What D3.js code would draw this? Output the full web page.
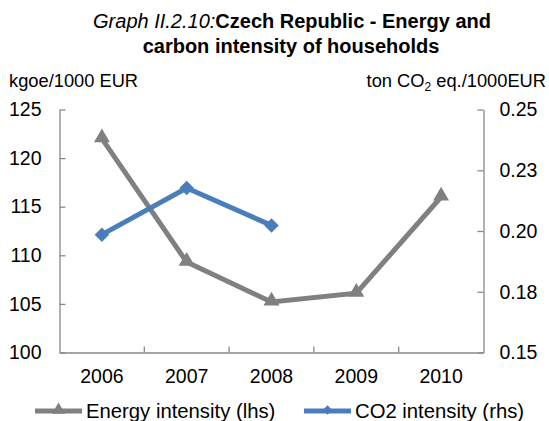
<!DOCTYPE html>
<html>
<head>
<meta charset="utf-8">
<script src="https://cdn.jsdelivr.net/npm/d3@7"></script>
<style>
  body { margin: 0; background: #fff; }
  svg text { font-family: Arial, "Liberation Sans", sans-serif; fill: #000; }
</style>
</head>
<body>
<div id="chart"></div>
<script>
var years = ["2006", "2007", "2008", "2009", "2010"]
var energyIntensity = [122.0, 109.3, 105.2, 106.1, 116.0]
var co2Years = ["2006", "2007", "2008"]
var co2Intensity = [0.1985, 0.2177, 0.2023]
var leftTicks = [100, 105, 110, 115, 120, 125]
var rightTicks = [0.15, 0.175, 0.2, 0.225, 0.25]
var rightTickLabels = ["0.15", "0.18", "0.20", "0.23", "0.25"]

var width = 549, height = 421
var grey = "#808080", blue = "#4a7ebb", axisCol = "#888888"
var plotL = 59.5, plotR = 483.5, plotT = 109.5, plotB = 352.5

var svg = d3.select("#chart").append("svg").attr("width", width).attr("height", height)

var x = d3.scaleBand().domain(years).range([plotL, plotR])
var y = d3.scaleLinear().domain([100, 125]).range([plotB, plotT])
var yR = d3.scaleLinear().domain([0.15, 0.25]).range([plotB, plotT])
var cx = d => x(d) + x.bandwidth() / 2

// title
var title = svg.append("text").attr("x", 292).attr("y", 28).attr("text-anchor", "middle").style("font-size", "20px")
title.append("tspan").style("font-style", "italic").text("Graph II.2.10:")
title.append("tspan").style("font-weight", "bold").text("Czech Republic - Energy and")
svg.append("text").attr("x", 291).attr("y", 53).attr("text-anchor", "middle")
  .style("font-size", "20px").style("font-weight", "bold").text("carbon intensity of households")

// unit labels
svg.append("text").attr("x", 9).attr("y", 87).style("font-size", "18.3px").text("kgoe/1000 EUR")
var rl = svg.append("text").attr("x", 546).attr("y", 87).attr("text-anchor", "end").style("font-size", "18.3px")
rl.append("tspan").text("ton CO")
rl.append("tspan").attr("dy", 4).style("font-size", "12px").text("2")
rl.append("tspan").attr("dy", -4).text(" eq./1000EUR")

// axes
var gL = svg.append("g").attr("transform", "translate(" + plotL + ",0)")
  .call(d3.axisLeft(y).tickValues(leftTicks).tickSize(-6).tickSizeOuter(0).tickPadding(18))
var gR = svg.append("g").attr("transform", "translate(" + plotR + ",0)")
  .call(d3.axisRight(yR).tickValues(rightTicks).tickSize(-6).tickSizeOuter(0).tickPadding(16)
    .tickFormat((d, i) => rightTickLabels[i]))
var gX = svg.append("g").attr("transform", "translate(0," + plotB + ")")
  .call(d3.axisBottom(x).tickSize(0).tickPadding(17))

gX.selectAll(".tick").filter((d, i) => i > 0).append("line")
  .attr("x1", -x.bandwidth() / 2).attr("x2", -x.bandwidth() / 2).attr("y1", 0).attr("y2", -6)

;[gL, gR, gX].forEach(g => {
  g.selectAll("path, line").attr("stroke", axisCol).attr("stroke-width", 1.3)
  g.selectAll("text").style("font-size", "19.5px").attr("fill", "#000").style("font-family", "Arial, 'Liberation Sans', sans-serif")
})

var tri = d3.symbol().type(d3.symbolTriangle).size(110)
var dia = d3.symbol().type(d3.symbolSquare).size(105)

// energy intensity (lhs)
svg.append("path").datum(energyIntensity)
  .attr("fill", "none").attr("stroke", grey).attr("stroke-width", 5)
  .attr("d", d3.line().x((d, i) => cx(years[i])).y(d => y(d)))
svg.selectAll(".tri").data(energyIntensity).join("path").attr("class", "tri")
  .attr("transform", (d, i) => "translate(" + cx(years[i]) + "," + (y(d) - 1) + ")")
  .attr("d", tri).attr("fill", grey)

// co2 intensity (rhs)
svg.append("path").datum(co2Intensity)
  .attr("fill", "none").attr("stroke", blue).attr("stroke-width", 5)
  .attr("d", d3.line().x((d, i) => cx(co2Years[i])).y(d => yR(d)))
svg.selectAll(".dia").data(co2Intensity).join("path").attr("class", "dia")
  .attr("transform", (d, i) => "translate(" + cx(co2Years[i]) + "," + yR(d) + ") rotate(45)")
  .attr("d", dia).attr("fill", blue)

// legend
var legend = [
  {name: "Energy intensity (lhs)", color: grey, sym: tri, size: 75, rot: 0, x: 35},
  {name: "CO2 intensity (rhs)", color: blue, sym: dia, size: 45, rot: 45, x: 304}
]
var lg = svg.selectAll(".leg").data(legend).join("g").attr("class", "leg")
  .attr("transform", d => "translate(" + d.x + ",411)")
lg.append("line").attr("x1", 0).attr("x2", 47).attr("stroke", d => d.color).attr("stroke-width", 5)
lg.append("path").attr("transform", d => "translate(23.5,-1) rotate(" + d.rot + ")")
  .attr("d", d => d.sym.size(d.size)()).attr("fill", d => d.color)
lg.append("text").attr("x", 51).attr("y", 7).style("font-size", "20.3px").text(d => d.name)
</script>
</body>
</html>
